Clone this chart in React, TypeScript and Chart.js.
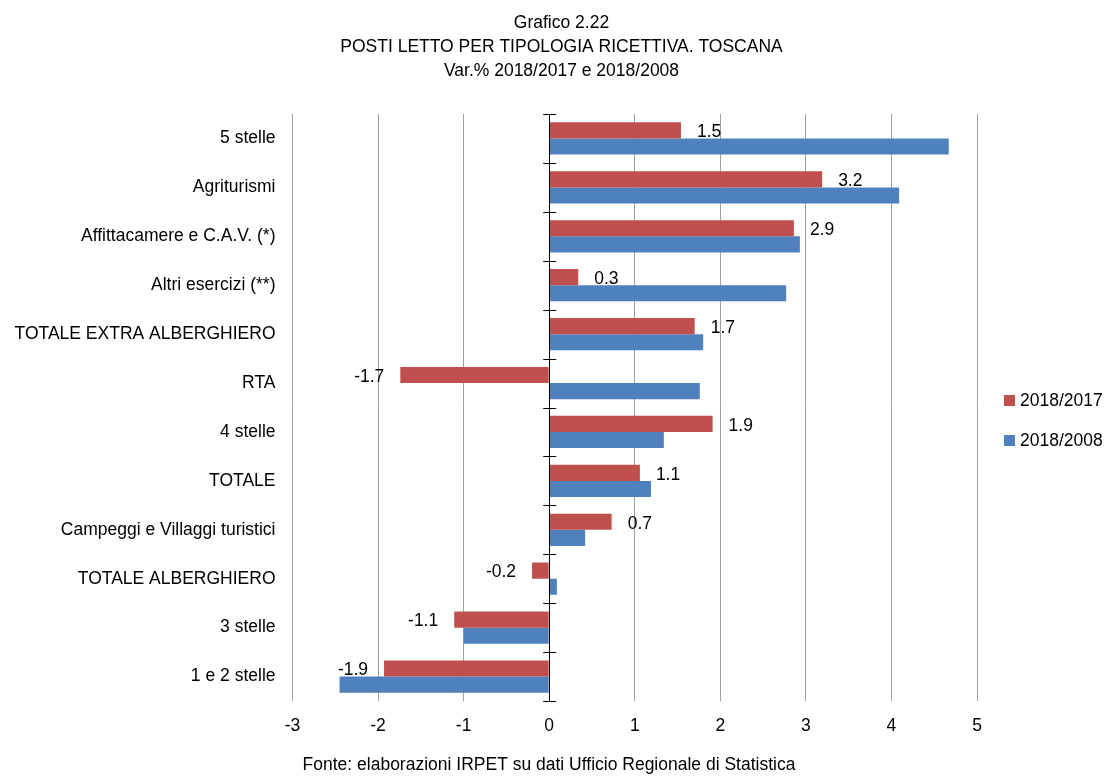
import React, { useEffect, useRef } from "react";
import { Chart, registerables } from "chart.js";

Chart.register(...registerables);

const categories = [
  "5 stelle",
  "Agriturismi",
  "Affittacamere e C.A.V. (*)",
  "Altri esercizi (**)",
  "TOTALE EXTRA ALBERGHIERO",
  "RTA",
  "4 stelle",
  "TOTALE",
  "Campeggi e Villaggi turistici",
  "TOTALE ALBERGHIERO",
  "3 stelle",
  "1 e 2 stelle",
];

const var2018_2017 = [1.54, 3.19, 2.86, 0.34, 1.7, -1.74, 1.91, 1.06, 0.73, -0.2, -1.11, -1.93];
const var2018_2008 = [4.67, 4.09, 2.93, 2.77, 1.8, 1.76, 1.34, 1.19, 0.42, 0.09, -1.0, -2.45];

const seriesNames = ["2018/2017", "2018/2008"];
const seriesColors = ["#C0504D", "#4F81BD"];

const titleLines = [
  "Grafico 2.22",
  "POSTI LETTO PER TIPOLOGIA RICETTIVA. TOSCANA",
  "Var.% 2018/2017 e 2018/2008",
];
const footerText = "Fonte: elaborazioni IRPET su dati Ufficio Regionale di Statistica";

const xMin = -3;
const xMax = 5;

const FONT = "'Liberation Sans', Arial, sans-serif";
const FS = 17.5;

const decorPlugin = {
  id: "decor",
  afterDatasetsDraw(chart: any) {
    const ctx = chart.ctx;
    const area = chart.chartArea;
    const xs = chart.scales.x;
    const x0 = xs.getPixelForValue(0);
    ctx.save();
    ctx.strokeStyle = "#000";
    ctx.lineWidth = 1;
    ctx.beginPath();
    ctx.moveTo(Math.round(x0) + 0.5, area.top);
    ctx.lineTo(Math.round(x0) + 0.5, area.bottom);
    const n = categories.length;
    const step = (area.bottom - area.top) / n;
    for (let i = 0; i <= n; i++) {
      const y = Math.round(area.top + i * step) + 0.5;
      ctx.moveTo(x0 - 6, y);
      ctx.lineTo(x0 + 7, y);
    }
    ctx.stroke();

    const meta = chart.getDatasetMeta(0);
    ctx.fillStyle = "#000";
    ctx.font = `${FS}px ${FONT}`;
    ctx.textBaseline = "middle";
    meta.data.forEach((bar: any, i: number) => {
      const v = var2018_2017[i];
      const txt = v.toFixed(1);
      if (v >= 0) {
        ctx.textAlign = "left";
        ctx.fillText(txt, bar.x + 16, bar.y + 2);
      } else {
        ctx.textAlign = "right";
        ctx.fillText(txt, bar.x - 16, bar.y + 2);
      }
    });
    ctx.restore();
  },
  afterDraw(chart: any) {
    const ctx = chart.ctx;
    ctx.save();
    ctx.fillStyle = "#000";
    ctx.font = `${FS}px ${FONT}`;
    ctx.textAlign = "center";
    ctx.textBaseline = "middle";
    const tys = [15.5, 39.5, 63.5];
    titleLines.forEach((t, i) => ctx.fillText(t, 553.5, tys[i]));
    ctx.fillText(footerText, 541, 757);

    const ly = [393, 433];
    seriesNames.forEach((name, i) => {
      ctx.fillStyle = seriesColors[i];
      ctx.fillRect(996, ly[i] - 6, 11, 11);
      ctx.fillStyle = "#000";
      ctx.textAlign = "left";
      ctx.fillText(name, 1012, ly[i]);
    });
    ctx.restore();
  },
};

export default function App() {
  const ref = useRef<HTMLCanvasElement>(null);
  useEffect(() => {
    if (!ref.current) return;
    document.body.style.margin = "0";
    document.body.style.overflow = "hidden";
    Chart.defaults.font.family = FONT;
    Chart.defaults.font.size = FS;
    Chart.defaults.color = "#000";
    const chart = new Chart(ref.current, {
      type: "bar",
      data: {
        labels: categories,
        datasets: [
          {
            label: seriesNames[0],
            data: var2018_2017,
            backgroundColor: seriesColors[0],
            categoryPercentage: 0.66,
            barPercentage: 1.0,
          },
          {
            label: seriesNames[1],
            data: var2018_2008,
            backgroundColor: seriesColors[1],
            categoryPercentage: 0.66,
            barPercentage: 1.0,
          },
        ],
      },
      options: {
        indexAxis: "y",
        animation: false,
        responsive: false,
        maintainAspectRatio: false,
        layout: { padding: { top: 106, right: 128, bottom: 0, left: 0 } },
        plugins: {
          legend: { display: false },
          title: { display: false },
          tooltip: { enabled: false },
        },
        scales: {
          x: {
            min: xMin,
            max: xMax,
            ticks: { stepSize: 1, padding: 15, font: { size: FS } },
            grid: {
              drawTicks: false,
              color: (c: any) => (c.tick && c.tick.value === 0 ? "rgba(0,0,0,0)" : "#a0a0a0"),
              lineWidth: 1,
            },
            border: { display: false },
            afterFit: (s: any) => {
              s.height = 77;
            },
          },
          y: {
            ticks: { padding: 17, font: { size: FS } },
            grid: { display: false, drawTicks: false },
            border: { display: false },
            afterFit: (s: any) => {
              s.width = 284.5;
            },
          },
        },
      },
      plugins: [decorPlugin],
    });
    return () => chart.destroy();
  }, []);
  return (
    <div style={{ padding: "8px 0 0 8px", width: 1097, height: 770 }}>
      <canvas ref={ref} width={1097} height={770} style={{ display: "block" }} />
    </div>
  );
}
